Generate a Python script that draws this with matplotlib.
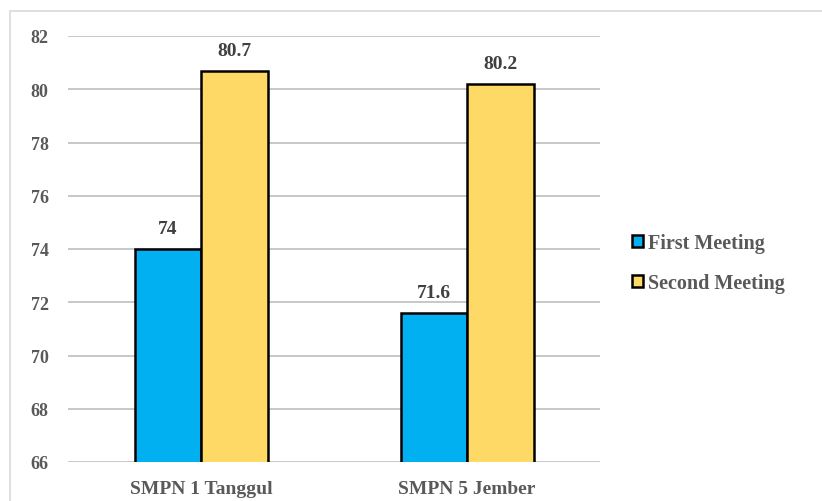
import numpy as np
import matplotlib.pyplot as plt
from matplotlib.patches import Rectangle

schools = ["SMPN 1 Tanggul", "SMPN 5 Jember"]
first_meeting = [74, 71.6]
second_meeting = [80.7, 80.2]
labels_first = ["74", "71.6"]
labels_second = ["80.7", "80.2"]

plt.rcParams['font.family'] = ['Liberation Serif', 'DejaVu Serif']

fig = plt.figure(figsize=(8.22, 5.02), dpi=100)
fig.patches.append(Rectangle((10 / 822, -0.01), 1.0, 1 - 12 / 502 + 0.01, transform=fig.transFigure,
                             fill=False, edgecolor="#d9d9d9", linewidth=1.2))
ax = fig.add_axes([68 / 822, 1 - 463 / 502, 532 / 822, 426 / 502])

x = np.arange(len(schools))
w = 0.25
b1 = ax.bar(x - w / 2, first_meeting, w, color="#00b0f0", edgecolor="black", linewidth=1.8,
            label="First Meeting", zorder=3)
b2 = ax.bar(x + w / 2, second_meeting, w, color="#ffd966", edgecolor="black", linewidth=1.8,
            label="Second Meeting", zorder=3)

for bars, labs in [(b1, labels_first), (b2, labels_second)]:
    for rect, lab in zip(bars, labs):
        ax.text(rect.get_x() + rect.get_width() / 2, rect.get_height() + 0.45, lab,
                ha="center", va="bottom", fontsize=14, fontweight="bold", color="#404040")

ax.set_ylim(66, 82)
ax.set_xlim(-0.5, 1.5)
ax.set_yticks(range(66, 83, 2))
ax.set_xticks(x)
ax.set_xticklabels(schools, fontsize=14, fontweight="bold", color="#595959")
ax.tick_params(axis="y", labelsize=13, colors="#595959", length=0, pad=14)
ax.tick_params(axis="x", length=0, pad=13)
for lab in ax.get_yticklabels():
    lab.set_fontweight("bold")
ax.grid(axis="y", color="#bfbfbf", linewidth=1.2, zorder=0)
for s in ax.spines.values():
    s.set_visible(False)

leg = fig.legend(loc="center left", bbox_to_anchor=(614 / 822, 1 - 264 / 502), frameon=False,
                 prop={"size": 14.5, "weight": "bold"}, handlelength=0.55, handleheight=0.55,
                 handletextpad=0.25, labelspacing=1.0)
for t in leg.get_texts():
    t.set_color("#595959")

fig.savefig("out.png", dpi=100)
